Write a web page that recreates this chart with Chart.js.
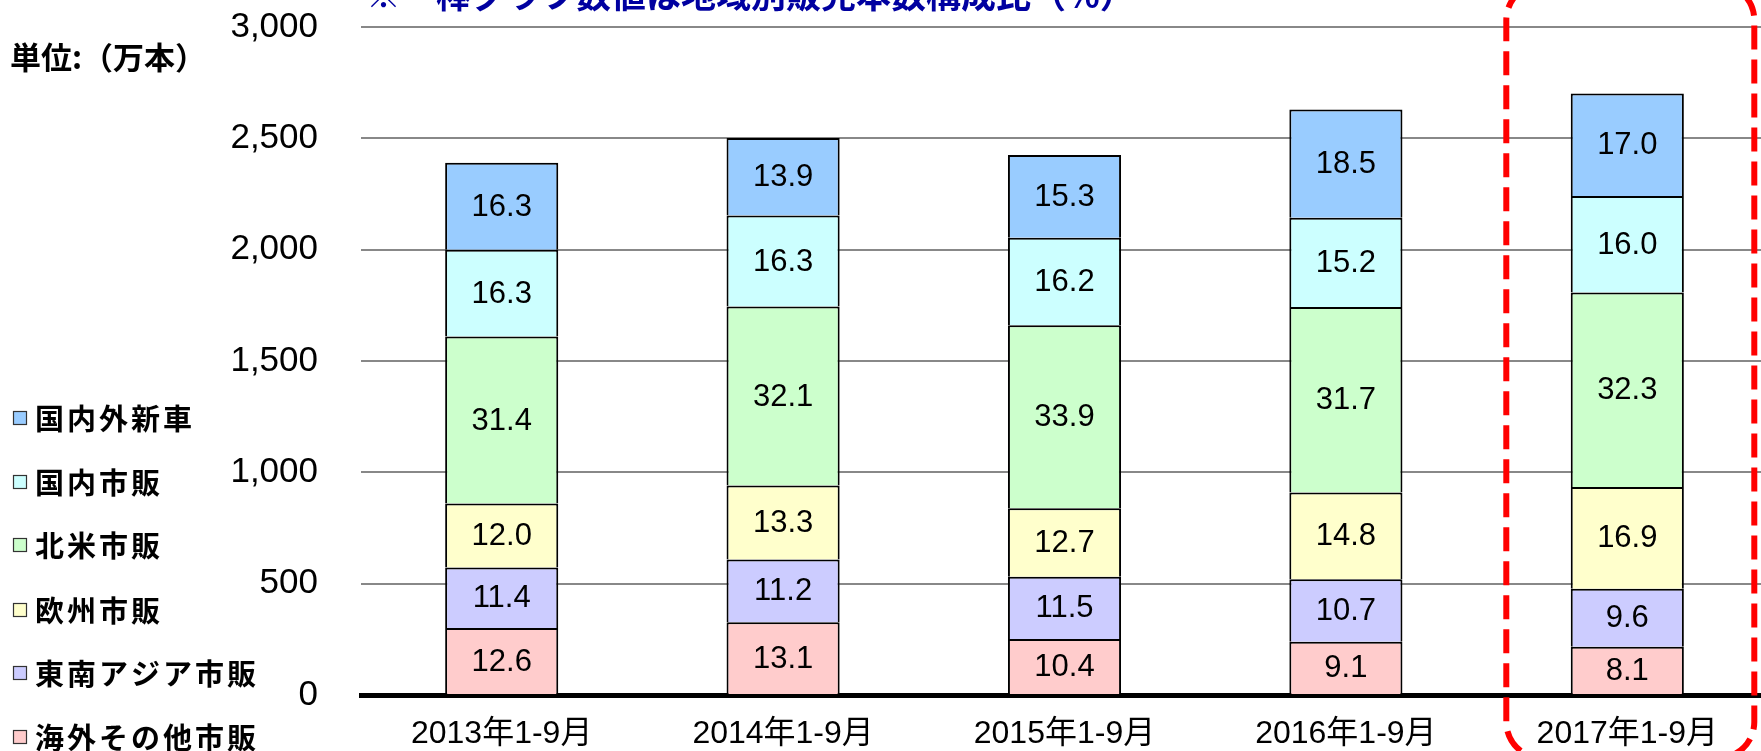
<!DOCTYPE html>
<html lang="ja"><head><meta charset="utf-8">
<script src="https://cdn.jsdelivr.net/npm/chart.js@4.4.1/dist/chart.umd.min.js"></script>
<style>
html,body{margin:0;padding:0;background:#fff;overflow:hidden;width:1761px;height:751px}
canvas{display:block}
</style></head>
<body>
<canvas id="c" width="1768" height="751"></canvas>
<script>
// ---- data ----
const categories = ['2013年1-9月','2014年1-9月','2015年1-9月','2016年1-9月','2017年1-9月'];
const seriesNames = ['海外その他市販','東南アジア市販','欧州市販','北米市販','国内市販','国内外新車'];
// segment volumes (万本), bottom to top
const otherOverseas = [301, 327, 252, 239, 217];
const southeastAsia = [272, 281, 279, 281, 260];
const europe        = [287, 333, 308, 389, 457];
const northAmerica  = [750, 804, 822, 834, 874];
const domestic      = [390, 408, 393, 400, 433];
const newCar        = [390, 349, 371, 487, 460];
// share labels (%)
const otherOverseasPct = ['12.6','13.1','10.4','9.1','8.1'];
const southeastAsiaPct = ['11.4','11.2','11.5','10.7','9.6'];
const europePct        = ['12.0','13.3','12.7','14.8','16.9'];
const northAmericaPct  = ['31.4','32.1','33.9','31.7','32.3'];
const domesticPct      = ['16.3','16.3','16.2','15.2','16.0'];
const newCarPct        = ['16.3','13.9','15.3','18.5','17.0'];
const yTickLabels = ['0','500','1,000','1,500','2,000','2,500','3,000'];
const unitLabel = '単位:（万本）';
const noteTitle = '※　棒グラフ数値は地域別販売本数構成比（%）';
const highlightIndex = 4;

const seriesValues = [otherOverseas, southeastAsia, europe, northAmerica, domestic, newCar];
const seriesPct = [otherOverseasPct, southeastAsiaPct, europePct, northAmericaPct, domesticPct, newCarPct];
const colors = ['#FFCCCC','#CCCCFF','#FFFFCC','#CCFFCC','#CCFFFF','#99CCFF'];

const CJK = '"Noto Sans CJK JP","Noto Sans CJK SC",sans-serif';
const LAT = '"Liberation Sans",Arial,"Noto Sans CJK JP",sans-serif';

const decorPlugin = {
  id: 'decor',
  afterDatasetsDraw(chart) {
    const ctx = chart.ctx;
    ctx.save();
    ctx.font = '31px "Liberation Sans", Arial, sans-serif';
    ctx.fillStyle = '#000';
    ctx.textAlign = 'center';
    ctx.textBaseline = 'middle';
    chart.data.datasets.forEach((ds, i) => {
      const meta = chart.getDatasetMeta(i);
      meta.data.forEach((el, j) => {
        const y = (el.y + el.base) / 2;
        ctx.fillText(seriesPct[i][j], el.x, y + 1);
      });
    });
    ctx.restore();
  },
  afterDraw(chart) {
    const ctx = chart.ctx;
    ctx.save();
    // title note
    ctx.font = 'bold 35px ' + CJK;
    ctx.fillStyle = '#0000A0';
    ctx.textAlign = 'left';
    ctx.textBaseline = 'alphabetic';
    ctx.fillText(noteTitle, 366, 8);
    // unit label
    ctx.font = 'bold 31px ' + CJK;
    ctx.fillStyle = '#000';
    ctx.textBaseline = 'middle';
    ctx.fillText(unitLabel, 10, 57);
    // legend (reverse order)
    const ys = [418, 482, 545, 610, 673, 737];
    const n = chart.data.datasets.length;
    ctx.font = 'bold 29px ' + CJK;
    ctx.letterSpacing = '3px';
    for (let k = 0; k < n; k++) {
      const ds = chart.data.datasets[n - 1 - k];
      const y = ys[k];
      ctx.fillStyle = ds.backgroundColor;
      ctx.fillRect(13, y - 7, 14, 14);
      ctx.strokeStyle = '#333';
      ctx.lineWidth = 1.2;
      ctx.strokeRect(13.5, y - 6.5, 13, 13);
      ctx.fillStyle = '#000';
      ctx.fillText(ds.label, 35, y + 1);
    }
    ctx.letterSpacing = '0px';
    // highlight dashed rounded rectangle
    const xs = chart.scales.x;
    const cx = xs.getPixelForValue(highlightIndex);
    const left = cx - 121, right = cx + 127, top = -16, bottom = 758, r = 36;
    ctx.strokeStyle = '#FF0000';
    ctx.lineWidth = 6;
    ctx.setLineDash([24, 10]);
    ctx.beginPath();
    ctx.roundRect(left, top, right - left, bottom - top, r);
    ctx.stroke();
    ctx.restore();
  }
};

new Chart(document.getElementById('c'), {
  type: 'bar',
  data: {
    labels: categories,
    datasets: seriesNames.map((name, i) => ({
      label: name,
      data: seriesValues[i],
      backgroundColor: colors[i],
      borderColor: '#000',
      borderWidth: 2,
      barPercentage: 0.402,
      categoryPercentage: 1
    }))
  },
  options: {
    responsive: false,
    animation: false,
    layout: { padding: { top: 27, left: 0, right: 0, bottom: 0 } },
    plugins: { legend: { display: false }, tooltip: { enabled: false }, title: { display: false } },
    scales: {
      x: {
        stacked: true,
        grid: { display: false, drawTicks: false },
        border: { display: true, color: '#000', width: 5 },
        ticks: { color: '#000', padding: 20, font: { family: LAT, size: 32 } },
        afterFit: s => { s.height = 56; s.paddingLeft = 0; s.paddingRight = 0; }
      },
      y: {
        stacked: true,
        min: 0, max: 3000,
        grid: {
          drawTicks: false,
          color: c => c.tick && c.tick.value === 0 ? 'rgba(0,0,0,0)' : '#888888',
          lineWidth: 2
        },
        border: { display: false },
        ticks: {
          stepSize: 500,
          color: '#000',
          padding: 43,
          font: { family: LAT, size: 35 },
          callback: (v) => yTickLabels[Math.round(v / 500)]
        },
        afterFit: s => { s.width = 361; s.paddingTop = 0; s.paddingBottom = 0; }
      }
    }
  },
  plugins: [decorPlugin]
});
</script>
</body></html>
